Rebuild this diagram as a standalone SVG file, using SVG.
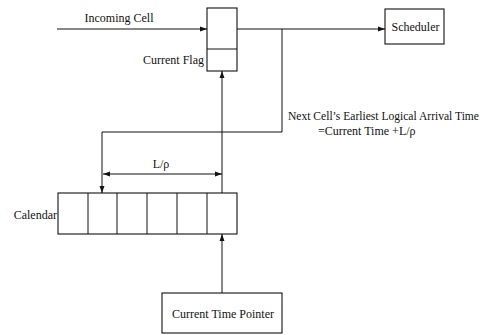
<svg xmlns="http://www.w3.org/2000/svg" width="491" height="335" viewBox="0 0 491 335">
<style>
.b{fill:#fff;stroke:#111;stroke-width:1.1}
.l{fill:none;stroke:#111;stroke-width:1}
text{font-family:"Liberation Serif","Times New Roman",serif;font-size:12px;fill:#111}
</style>
<defs>
<marker id="a" viewBox="0 0 10 10" refX="10" refY="5" markerWidth="7" markerHeight="7" orient="auto-start-reverse" markerUnits="userSpaceOnUse">
<path d="M0,1.5 L10,5 L0,8.5 z" fill="#111"/>
</marker>
</defs>
<rect width="491" height="335" fill="#fff"/>
<g id="connectors">
<line class="l" x1="57" y1="29" x2="207" y2="29" marker-end="url(#a)"/>
<line class="l" x1="237" y1="29" x2="385" y2="29" marker-end="url(#a)"/>
<polyline class="l" points="282,29 282,132 102,132 102,193" marker-end="url(#a)"/>
<line class="l" x1="222" y1="193" x2="222" y2="71" marker-end="url(#a)"/>
<line class="l" x1="103" y1="174" x2="222" y2="174" marker-start="url(#a)" marker-end="url(#a)"/>
<line class="l" x1="222" y1="293" x2="222" y2="234" marker-end="url(#a)"/>
</g>
<g id="flag">
<rect class="b" x="207" y="8" width="30" height="63"/>
<line class="l" x1="207" y1="49" x2="237" y2="49"/>
<text x="204" y="64" text-anchor="end">Current  Flag</text>
</g>
<g id="scheduler">
<rect class="b" x="385" y="9" width="59" height="35"/>
<text x="415.5" y="31" text-anchor="middle">Scheduler</text>
</g>
<g id="calendar">
<rect class="b" x="58" y="193" width="179" height="41"/>
<line class="l" x1="88" y1="193" x2="88" y2="234"/>
<line class="l" x1="117" y1="193" x2="117" y2="234"/>
<line class="l" x1="147" y1="193" x2="147" y2="234"/>
<line class="l" x1="177" y1="193" x2="177" y2="234"/>
<line class="l" x1="207" y1="193" x2="207" y2="234"/>
<text x="57" y="219" text-anchor="end">Calendar</text>
</g>
<g id="pointer">
<rect class="b" x="162" y="293" width="120" height="40"/>
<text x="223" y="318" text-anchor="middle">Current Time Pointer</text>
</g>
<g id="labels">
<text x="119" y="22" text-anchor="middle">Incoming Cell</text>
<text x="161" y="168" text-anchor="middle">L/ρ</text>
<text x="288" y="120" textLength="191" lengthAdjust="spacingAndGlyphs">Next Cell’s Earliest Logical Arrival Time</text>
<text x="318" y="135">=Current Time +L/ρ</text>
</g>
</svg>
